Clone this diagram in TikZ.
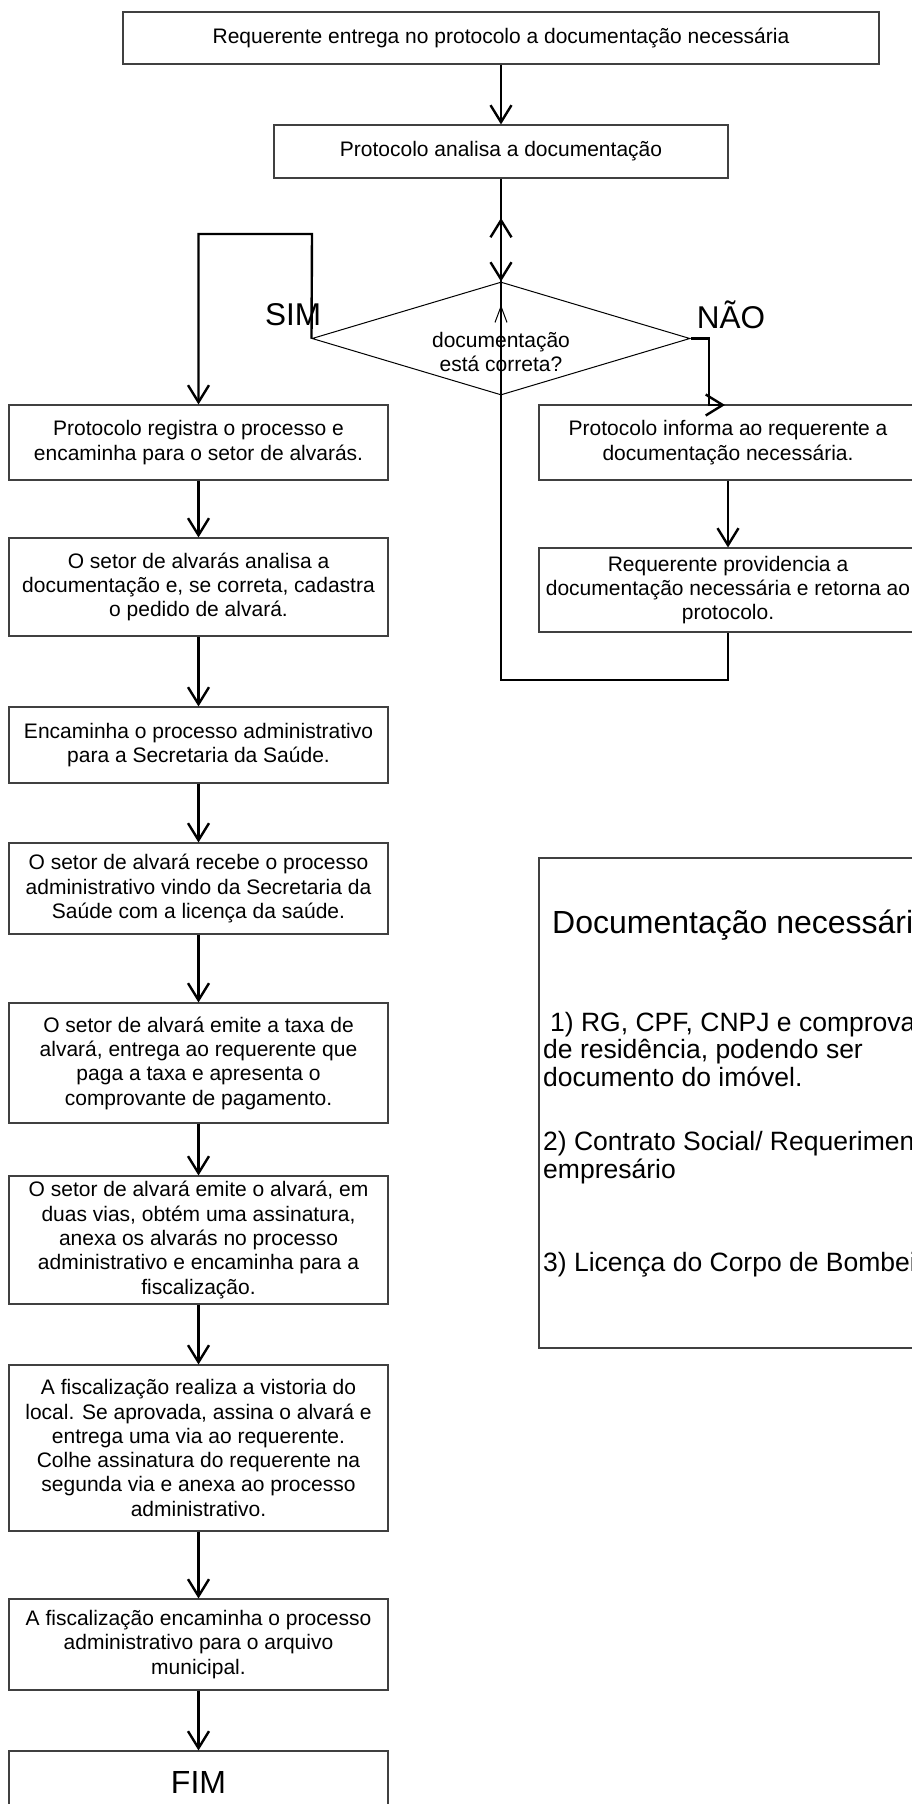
\documentclass[tikz,border=0pt]{standalone}
\usepackage{fontspec}
\setmainfont{Liberation Sans}
\usetikzlibrary{arrows.meta,shapes.geometric}
\begin{document}
\begin{tikzpicture}[x=1pt,y=-1pt,
  box/.style={rectangle, draw=black!75, line width=1.1pt, inner sep=0pt, align=center, font=\fontsize{21pt}{24.3pt}\selectfont},
  lbox/.style={box, minimum width=379pt},
  rbox/.style={box, minimum width=378pt},
  conn/.style={line width=2.4pt, -{Straight Barb[length=17pt,width=21pt]}},
  bigtxt/.style={font=\fontsize{31.5pt}{36pt}\selectfont, inner sep=0pt},
  itemtxt/.style={font=\fontsize{26.5pt}{27.7pt}\selectfont, inner sep=0pt, align=left, anchor=west}
]
\useasboundingbox (0,0) rectangle (912,1804);
\clip (0,0) rectangle (912,1804);
\fill[white] (0,0) rectangle (912,1804);

% top
\node[box, minimum width=756pt, minimum height=52pt] (T) at (501,38) {Requerente entrega no protocolo a documentação necessária};
\node[box, minimum width=454pt, minimum height=53pt] (P) at (501,151.5) {Protocolo analisa a documentação};

% decision
\node[draw, diamond, line width=1pt, minimum width=378pt, minimum height=113pt, inner sep=0pt] (D) at (501,338.5) {};
\node[inner sep=0pt, align=center, font=\fontsize{21pt}{24.3pt}\selectfont] (Dt) at (501,352) {documentação\\está correta?};
\node[bigtxt] (sim) at (293,315) {SIM};
\node[bigtxt] (nao) at (731,315) {NÃO};

% left column
\node[lbox, minimum height=75pt] (B1) at (198.5,442.5) {Protocolo registra o processo e\\encaminha para o setor de alvarás.};
\node[lbox, minimum height=98pt] (B2) at (198.5,587) {O setor de alvarás analisa a\\documentação e, se correta, cadastra\\o pedido de alvará.};
\node[lbox, minimum height=76pt] (B3) at (198.5,745) {Encaminha o processo administrativo\\para a Secretaria da Saúde.};
\node[lbox, minimum height=91pt] (B4) at (198.5,888.5) {O setor de alvará recebe o processo\\administrativo vindo da Secretaria da\\Saúde com a licença da saúde.};
\node[lbox, minimum height=120pt] (B5) at (198.5,1063) {O setor de alvará emite a taxa de\\alvará, entrega ao requerente que\\paga a taxa e apresenta o\\comprovante de pagamento.};
\node[lbox, minimum height=128pt] (B6) at (198.5,1240) {O setor de alvará emite o alvará, em\\duas vias, obtém uma assinatura,\\anexa os alvarás no processo\\administrativo e encaminha para a\\fiscalização.};
\node[lbox, minimum height=166pt] (B7) at (198.5,1448) {A fiscalização realiza a vistoria do\\local. Se aprovada, assina o alvará e\\entrega uma via ao requerente.\\Colhe assinatura do requerente na\\segunda via e anexa ao processo\\administrativo.};
\node[lbox, minimum height=91pt] (B8) at (198.5,1644.5) {A fiscalização encaminha o processo\\administrativo para o arquivo\\municipal.};
\node[lbox, minimum height=62pt, font=\fontsize{32pt}{36pt}\selectfont] (FIM) at (198.5,1782) {FIM};

% right column
\node[rbox, minimum height=75pt] (R1) at (728,442.5) {Protocolo informa ao requerente a\\documentação necessária.};
\node[rbox, minimum height=84pt] (R2) at (728,590) {Requerente providencia a\\documentação necessária e retorna ao\\protocolo.};

% documentation box
\node[rectangle, draw=black!75, line width=1.1pt, minimum width=430pt, minimum height=490pt, inner sep=0pt] (Doc) at (754,1103) {};
\node[inner sep=0pt, anchor=west, font=\fontsize{32pt}{36pt}\selectfont] (DocT) at (552,925) {Documentação necessária};
\node[itemtxt] (I1) at (543,1049.5) {\hspace*{7pt}1) RG, CPF, CNPJ e comprovante\\de residência, podendo ser\\documento do imóvel.};
\node[itemtxt] (I2) at (543,1157.5) {2) Contrato Social/ Requerimento de\\empresário};
\node[itemtxt] (I3) at (543,1265) {3) Licença do Corpo de Bombeiros};

% helper coordinates
\coordinate (ret) at (501,218);
\coordinate (small) at (501,305);
\coordinate (naotip) at (725,405);

% connectors
\draw[conn] (T.south) -- (P.north);
\draw[conn] (P.south) -- (D.north);
\draw[conn] (R2.south) -- (728,680) -- (501,680) -- (ret);
\draw[line width=1pt, -{Straight Barb[length=16pt,width=12pt]}] (D.south) -- (small);
\draw[conn] (D.west) -- (312,234) -- (198.5,234) -- (B1.north);
\draw[conn] (D.east) -- (709,338.5) -- (709,405) -- (naotip);
\draw[conn] (R1.south) -- (R2.north);
\draw[conn] (B1.south) -- (B2.north);
\draw[conn] (B2.south) -- (B3.north);
\draw[conn] (B3.south) -- (B4.north);
\draw[conn] (B4.south) -- (B5.north);
\draw[conn] (B5.south) -- (B6.north);
\draw[conn] (B6.south) -- (B7.north);
\draw[conn] (B7.south) -- (B8.north);
\draw[conn] (B8.south) -- (FIM.north);
\end{tikzpicture}
\end{document}
